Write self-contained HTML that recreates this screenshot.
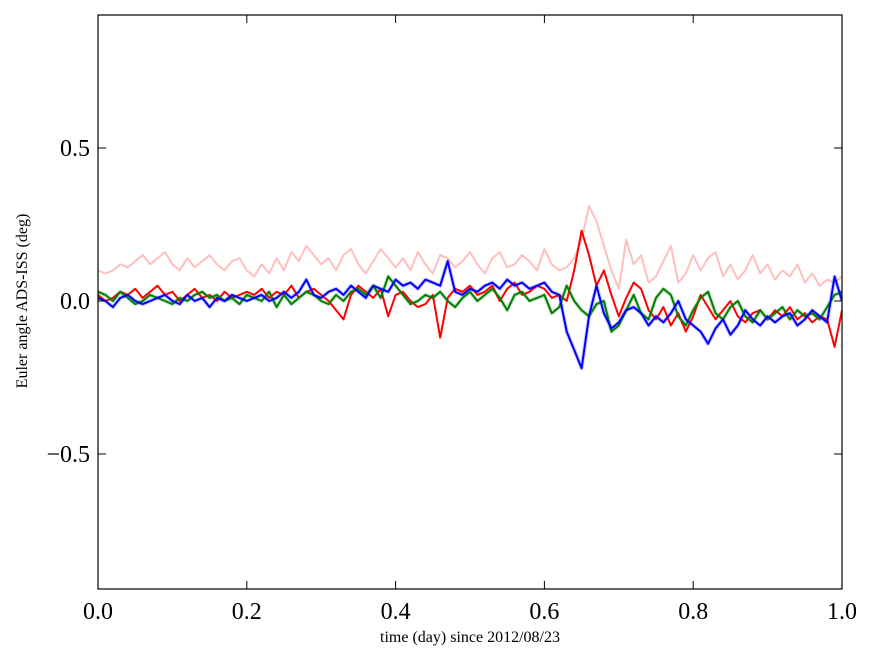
<!DOCTYPE html>
<html><head><meta charset="utf-8"><style>
body{margin:0;background:#fff;}
svg text{font-family:"Liberation Serif",serif;}
</style></head><body>
<svg id="chart" width="875" height="662">
<g id="plot"></g>
</svg>
<script>
const xs=[];for(let i=0;i<=100;i++)xs.push(i/100);
const pinkVals=[0.10,0.09,0.10,0.12,0.11,0.13,0.15,0.12,0.14,0.16,0.12,0.10,0.14,0.11,0.13,0.15,0.12,0.10,0.13,0.14,0.10,0.08,0.12,0.09,0.14,0.10,0.16,0.13,0.18,0.15,0.12,0.14,0.10,0.15,0.17,0.12,0.09,0.13,0.17,0.14,0.11,0.14,0.10,0.16,0.12,0.09,0.15,0.14,0.11,0.13,0.16,0.12,0.09,0.14,0.16,0.11,0.12,0.15,0.13,0.10,0.17,0.12,0.10,0.11,0.14,0.20,0.31,0.26,0.18,0.10,0.04,0.20,0.12,0.15,0.06,0.08,0.13,0.18,0.06,0.09,0.15,0.10,0.14,0.16,0.08,0.12,0.07,0.10,0.15,0.09,0.12,0.07,0.10,0.08,0.12,0.06,0.09,0.05,0.07,0.06,0.08];
const redVals=[0.02,0.00,0.01,0.03,0.02,0.04,0.01,0.03,0.05,0.02,0.03,0.00,0.02,0.04,0.01,0.02,0.00,0.03,0.01,0.02,0.03,0.02,0.04,0.01,0.03,0.02,0.05,0.01,0.03,0.04,0.02,0.00,-0.03,-0.06,0.02,0.05,0.03,0.01,0.04,-0.05,0.02,0.03,0.00,-0.02,-0.01,0.02,-0.12,0.01,0.04,0.03,0.05,0.02,0.03,0.05,0.00,0.04,0.06,0.02,0.03,0.05,0.04,0.01,0.02,0.00,0.10,0.23,0.15,0.05,0.10,0.02,-0.05,0.01,0.06,0.04,-0.03,-0.06,-0.02,-0.08,-0.04,-0.10,-0.05,0.02,-0.02,-0.06,-0.03,0.00,-0.05,-0.07,-0.04,-0.03,-0.06,-0.03,-0.05,-0.02,-0.06,-0.04,-0.07,-0.05,-0.06,-0.15,-0.03];
const greenVals=[0.03,0.02,0.00,0.03,0.01,-0.01,0.00,0.02,0.01,0.00,-0.01,0.01,0.00,0.02,0.03,0.01,0.02,0.00,0.01,-0.01,0.02,0.01,0.00,0.03,-0.02,0.02,-0.01,0.01,0.03,0.02,0.00,-0.01,0.02,0.00,0.03,0.04,0.02,0.05,0.01,0.08,0.05,0.02,-0.01,0.00,0.02,0.01,0.03,0.00,-0.02,0.01,0.03,0.00,0.02,0.04,0.01,-0.03,0.02,0.03,0.00,0.01,0.02,-0.04,-0.02,0.05,0.00,-0.03,-0.05,-0.01,0.00,-0.10,-0.08,-0.03,0.02,-0.04,-0.06,0.01,0.04,0.02,-0.05,-0.08,-0.03,0.01,0.03,-0.04,-0.06,-0.02,0.00,-0.05,-0.07,-0.03,-0.06,-0.04,-0.02,-0.06,-0.03,-0.05,-0.04,-0.06,-0.02,0.02,0.03];
const blueVals=[0.01,0.00,-0.02,0.01,0.02,0.00,-0.01,0.00,0.01,0.02,0.00,-0.01,0.02,0.00,0.01,-0.02,0.01,0.00,0.02,0.01,0.00,0.01,0.02,0.00,0.01,0.03,0.01,0.03,0.07,0.02,0.01,0.03,0.04,0.02,0.05,0.03,0.01,0.05,0.04,0.03,0.07,0.05,0.06,0.04,0.07,0.06,0.05,0.13,0.03,0.02,0.04,0.03,0.05,0.06,0.04,0.07,0.05,0.06,0.04,0.05,0.06,0.03,0.02,-0.10,-0.16,-0.22,-0.05,0.05,-0.04,-0.09,-0.07,-0.03,-0.02,-0.04,-0.08,-0.05,-0.07,-0.04,0.00,-0.06,-0.08,-0.10,-0.14,-0.09,-0.06,-0.11,-0.08,-0.03,-0.06,-0.08,-0.05,-0.07,-0.05,-0.04,-0.08,-0.06,-0.03,-0.05,-0.07,0.08,0.00];
const xTicks=[0,0.2,0.4,0.6,0.8,1.0];
const xTickLabels=["0.0","0.2","0.4","0.6","0.8","1.0"];
const yTicks=[0.5,0,-0.5];
const yTickLabels=["0.5","0.0","\u22120.5"];
const L=98,R=842,T=15,B=589,Y0=301,PU=306;
const sx=v=>L+v*(R-L);
const sy=v=>Y0-v*PU;
const NS="http://www.w3.org/2000/svg";
const g=document.getElementById('plot');
function mk(tag,attrs){const e=document.createElementNS(NS,tag);for(const k in attrs)e.setAttribute(k,attrs[k]);g.appendChild(e);return e;}
const clip=document.createElementNS(NS,'clipPath');clip.setAttribute('id','pc');
const cr=document.createElementNS(NS,'rect');cr.setAttribute('x',L);cr.setAttribute('y',T);cr.setAttribute('width',R-L);cr.setAttribute('height',B-T);clip.appendChild(cr);g.appendChild(clip);
function line(vals,color,w,op,name){
  const d=vals.map((v,i)=>(i?'L':'M')+sx(xs[i]).toFixed(1)+','+sy(v).toFixed(1)).join('');
  const p=mk('path',{d:d,fill:'none',stroke:color,'stroke-width':w,'stroke-opacity':op,'clip-path':'url(#pc)','stroke-linejoin':'round'});
  
  
}
line(pinkVals,'#ff0000',2,0.25,'series-pink');
line(blueVals,'#0000ff',4,0.2,'series-blue-faint');
line(greenVals,'#008000',4,0.2,'series-green-faint');
line(redVals,'#ff0000',2,1,'series-red');
line(greenVals,'#008000',2,1,'series-green');
line(blueVals,'#0000ff',2,1,'series-blue');
const fr=mk('rect',{x:L,y:T,width:R-L,height:B-T,fill:'none',stroke:'#000','stroke-width':1.2});


xTicks.forEach((t,i)=>{
  mk('line',{x1:sx(t),x2:sx(t),y1:B,y2:B-8,stroke:'#000'});
  mk('line',{x1:sx(t),x2:sx(t),y1:T,y2:T+8,stroke:'#000'});
  const tx=mk('text',{x:sx(t),y:B+30,'font-size':24,'text-anchor':'middle'});tx.textContent=xTickLabels[i];
  
  
});
yTicks.forEach((t,i)=>{
  mk('line',{x1:L,x2:L+8,y1:sy(t),y2:sy(t),stroke:'#000'});
  mk('line',{x1:R,x2:R-8,y1:sy(t),y2:sy(t),stroke:'#000'});
  const tx=mk('text',{x:L-8,y:sy(t)+8,'font-size':24,'text-anchor':'end'});tx.textContent=yTickLabels[i];
  
  
});
const xl=mk('text',{x:(L+R)/2,y:642,'font-size':16,'text-anchor':'middle'});xl.textContent='time (day) since 2012/08/23';


const yl=mk('text',{x:0,y:0,'font-size':16,'text-anchor':'middle',transform:'translate(27,301) rotate(-90)'});yl.textContent='Euler angle ADS-ISS (deg)';


</script>
</body></html>
